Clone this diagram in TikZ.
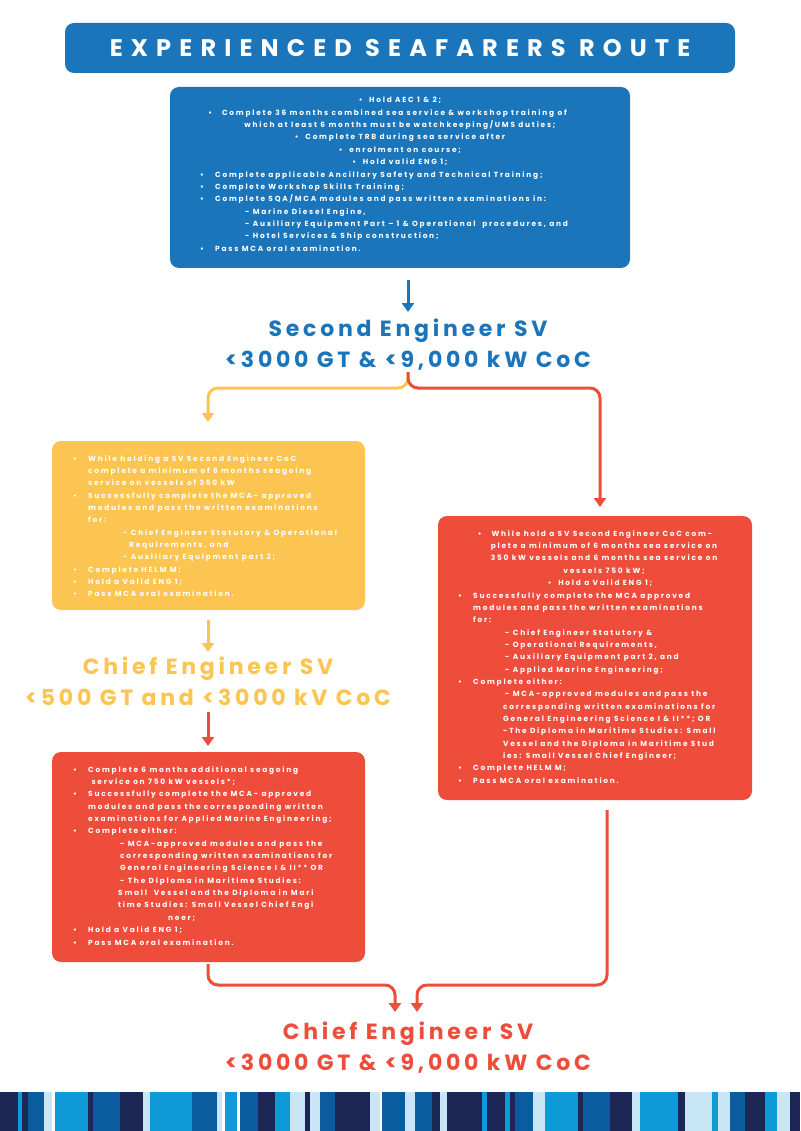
\documentclass[tikz,border=0pt]{standalone}
\usepackage{fontspec}
\setmainfont{Poppins}[LetterSpace=24]
\newfontfamily\hd{Poppins}[LetterSpace=17]
\newfontfamily\ttlfont{Poppins}[LetterSpace=34]
\usetikzlibrary{arrows.meta}
\definecolor{tblue}{HTML}{1B75BB}
\definecolor{tyel}{HTML}{FCC450}
\definecolor{tred}{HTML}{EE4D3B}
\definecolor{navy}{HTML}{1C2756}
\definecolor{mblue}{HTML}{0B5C9E}
\definecolor{bblue}{HTML}{0E9AD6}
\definecolor{lblue}{HTML}{C8E6F5}
\newcommand{\bu}{\makebox[15pt][l]{\textbullet}}
\newcommand{\ind}{\hspace*{15pt}}
\begin{document}
\begin{tikzpicture}[x=1pt,y=-1pt,
  box/.style={rounded corners=9pt},
  txt/.style={text=white,font=\fontsize{7.4}{12.35}\selectfont\bfseries,inner sep=0pt,anchor=north west,align=left},
  ttl/.style={font=\hd\fontsize{22}{31}\selectfont\bfseries,align=center},
  con/.style={line width=3pt,rounded corners=10pt,-{Triangle[length=9pt,width=12pt]}}]
\useasboundingbox (0,0) rectangle (800,1131);
\fill[white] (0,0) rectangle (800,1131);
% title
\node[box,fill=tblue,minimum width=670pt,minimum height=50pt,text=white,font=\ttlfont\fontsize{24}{28}\selectfont\bfseries] (title) at (400,48) {EXPERIENCED SEAFARERS ROUTE};
% top box
\fill[tblue,rounded corners=9pt] (170,87) rectangle (630,268);
\node[txt,align=center,anchor=north] (t1) at (400,97) {\textbullet\ \ Hold AEC 1 \& 2;\\
\hspace*{-25pt}\textbullet\ \ \ Complete 36 months combined sea service \& workshop training of\\
which at least 6 months must be watchkeeping/UMS duties;\\
\textbullet\ \ Complete TRB during sea service after\\
\textbullet\ \ enrolment on course;\\
\textbullet\ \ Hold valid ENG 1;};
\node[txt] (t2) at (200,171) {\bu Complete applicable Ancillary Safety and Technical Training;\\
\bu Complete Workshop Skills Training;\\
\bu Complete SQA/MCA modules and pass written examinations in:\\
\hspace*{45pt}- Marine Diesel Engine,\\
\hspace*{45pt}- Auxiliary Equipment Part -- 1 \& Operational\ \ procedures, and\\
\hspace*{45pt}- Hotel Services \& Ship construction;\\
\bu Pass MCA oral examination.};
\coordinate (topb) at (408,280);
\coordinate (sec) at (408,312);
\draw[con,tblue] (topb) -- (sec);
\node[ttl,text=tblue] (s2) at (408,345) {Second Engineer SV\\<3000 GT \& <9,000 kW CoC};
% branch
\coordinate (br) at (408,372);
\coordinate (yl) at (208,422);
\coordinate (rr) at (600,507);
\draw[con,tyel] (br) -- (408,388) -- (208,388) -- (yl);
\draw[con,tred] (br) -- (408,388) -- (600,388) -- (rr);
% yellow
\fill[tyel,rounded corners=9pt] (52,441) rectangle (365,610);
\node[txt] (y1) at (73,455) {\bu While holding a SV Second Engineer CoC\\
\ind complete a minimum of 6 months seagoing\\
\ind service on vessels of 350 kW\\
\bu Successfully complete the MCA- approved\\
\ind modules and pass the written examinations\\
\ind for:\\
\hspace*{50pt}- Chief Engineer Statutory \& Operational\\
\hspace*{56pt}Requirements, and\\
\hspace*{50pt}- Auxiliary Equipment part 2;\\
\bu Complete HELM M;\\
\bu Hold a Valid ENG 1;\\
\bu Pass MCA oral examination.};
\coordinate (ya) at (208,620);
\coordinate (yb) at (208,652);
\draw[con,tyel] (ya) -- (yb);
\node[ttl,text=tyel] (ce1) at (208,681) {Chief Engineer SV\\<500 GT and <3000 kV CoC};
\coordinate (ra) at (208,712);
\coordinate (rb) at (208,746);
\draw[con,tred] (ra) -- (rb);
% left red
\fill[tred,rounded corners=9pt] (52,752) rectangle (365,962);
\node[txt] (l1) at (73,766) {\bu Complete 6 months additional seagoing\\
\ind\ service on 750 kW vessels*;\\
\bu Successfully complete the MCA- approved\\
\ind modules and pass the corresponding written\\
\ind examinations for Applied Marine Engineering;\\
\bu Complete either:\\
\hspace*{47pt}- MCA-approved modules and pass the\\
\hspace*{47pt}corresponding written examinations for\\
\hspace*{47pt}General Engineering Science I \& II** OR\\
\hspace*{47pt}- The Diploma in Maritime Studies:\\
\hspace*{45pt}Small\ \ Vessel and the Diploma in Mari\\
\hspace*{45pt}time Studies: Small Vessel Chief Engi\\
\hspace*{95pt}neer;\\
\bu Hold a Valid ENG 1;\\
\bu Pass MCA oral examination.};
% right red
\fill[tred,rounded corners=9pt] (438,516) rectangle (752,800);
\node[txt,align=center,anchor=north] (r0) at (600,530) {\hspace*{-10pt}\textbullet\ \ \ While hold a SV Second Engineer CoC com-\\
\hspace*{8pt}plete a minimum of 6 months sea service on\\
\hspace*{8pt}350 kW vessels and 6 months sea service on\\
\hspace*{8pt}vessels 750 kW;\\
\textbullet\ \ Hold a Valid ENG 1;};
\node[txt] (r1) at (458,592) {\bu Successfully complete the MCA approved\\
\ind modules and pass the written examinations\\
\ind for:\\
\hspace*{47pt}- Chief Engineer Statutory \&\\
\hspace*{47pt}- Operational Requirements,\\
\hspace*{47pt}- Auxiliary Equipment part 2, and\\
\hspace*{47pt}- Applied Marine Engineering;\\
\bu Complete either:\\
\hspace*{47pt}- MCA-approved modules and pass the\\
\hspace*{45pt}corresponding written examinations for\\
\hspace*{45pt}General Engineering Science I \& II**; OR\\
\hspace*{45pt}-The Diploma in Maritime Studies: Small\\
\hspace*{45pt}Vessel and the Diploma in Maritime Stud\\
\hspace*{45pt}ies: Small Vessel Chief Engineer;\\
\bu Complete HELM M;\\
\bu Pass MCA oral examination.};
% bottom connectors
\coordinate (lb) at (208,964);
\coordinate (rbb) at (607,810);
\coordinate (f1) at (395,1012);
\coordinate (f2) at (417,1012);
\draw[con,tred] (lb) -- (208,985) -- (395,985) -- (f1);
\draw[con,tred] (rbb) -- (607,985) -- (417,985) -- (f2);
\node[ttl,text=tred] (ce2) at (408,1048) {Chief Engineer SV\\<3000 GT \& <9,000 kW CoC};
% stripes
\foreach \a/\b/\c in {0/18/navy,18/22/bblue,22/28/navy,28/44/mblue,44/52/lblue,55/88/bblue,88/93/navy,93/120/mblue,120/143/navy,143/150/lblue,150/192/bblue,192/217/mblue,217/222/lblue,225/237/bblue,240/258/mblue,258/275/navy,275/290/bblue,290/305/lblue,305/310/navy,310/320/lblue,320/335/mblue,335/370/navy,370/380/lblue,382/405/mblue,405/415/lblue,415/432/mblue,432/440/navy,440/447/lblue,447/482/navy,482/487/bblue,487/505/navy,505/510/bblue,510/515/navy,515/533/mblue,533/545/lblue,545/578/bblue,578/583/navy,583/610/mblue,610/632/navy,632/640/lblue,640/678/bblue,678/685/navy,685/712/lblue,712/718/bblue,718/730/lblue,730/745/mblue,745/765/navy,765/777/bblue,777/790/lblue,790/800/navy}
  \fill[\c] (\a,1092) rectangle (\b,1131);
\end{tikzpicture}
\end{document}
